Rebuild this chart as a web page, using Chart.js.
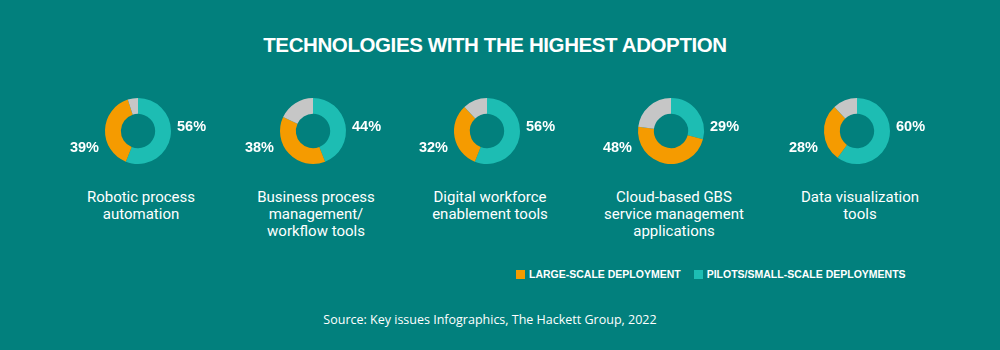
<!DOCTYPE html>
<html>
<head>
<meta charset="utf-8">
<script src="https://cdn.jsdelivr.net/npm/chart.js@4.4.1/dist/chart.umd.min.js"></script>
<style>
  html, body { margin: 0; padding: 0; }
  body { width: 1000px; height: 350px; background: #02807d; position: relative; overflow: hidden; font-family: Roboto, "Liberation Sans", sans-serif; color: #fff; }
  #title { position: absolute; left: 0; width: 990px; top: 33px; text-align: center; font-family: "Liberation Sans", Arial, sans-serif; font-weight: bold; font-size: 20.5px; letter-spacing: -0.4px; }
  .donut { position: absolute; width: 170px; height: 80px; }
  .cat { position: absolute; width: 200px; text-align: center; font-size: 15px; line-height: 17px; top: 189px; }
  #legend { position: absolute; top: 268px; left: 516px; font-family: "Liberation Sans", Arial, sans-serif; font-weight: bold; font-size: 10.5px; white-space: nowrap; }
  #legend span.sw { display: inline-block; width: 9px; height: 9px; margin-right: 4px; vertical-align: -0.5px; }
  #legend span.it { margin-right: 13px; }
  #source { position: absolute; top: 311px; left: 0; width: 980px; text-align: center; font-family: "Open Sans", sans-serif; font-size: 12.5px; }
</style>
</head>
<body>
<div id="title">TECHNOLOGIES WITH THE HIGHEST ADOPTION</div>
<div id="charts"></div>
<div id="legend"></div>
<div id="source">Source: Key issues Infographics, The Hackett Group, 2022</div>

<script>
// data (percent of respondents)
var categories = [
    ["Robotic process", "automation"],
    ["Business process", "management/", "workflow tools"],
    ["Digital workforce", "enablement tools"],
    ["Cloud-based GBS", "service management", "applications"],
    ["Data visualization", "tools"]
];
var pilots = [56, 44, 56, 29, 60];
var largeScale = [39, 38, 32, 48, 28];
var seriesNames = ["LARGE-SCALE DEPLOYMENT", "PILOTS/SMALL-SCALE DEPLOYMENTS"];

var centersX = [138, 313, 487, 671, 857];
var centerY = 131;

var colPilot = '#1dbdb3';
var colLarge = '#f59b00';
var colOther = '#c6c6c6';

// draws the two percent labels beside the ring
var pctLabels = {
    id: 'pctLabels',
    afterDraw: function (chart) {
        var ctx = chart.ctx;
        var arc = chart.getDatasetMeta(0).data[0];
        var d = chart.data.datasets[0].data;
        ctx.save();
        ctx.fillStyle = '#fff';
        ctx.font = 'bold 14.5px "Liberation Sans", Arial, sans-serif';
        ctx.textBaseline = 'middle';
        ctx.textAlign = 'left';
        ctx.fillText(d[0] + '%', arc.x + arc.outerRadius + 6, arc.y - 4);
        ctx.textAlign = 'right';
        ctx.fillText(d[1] + '%', arc.x - arc.outerRadius - 6, arc.y + 17);
        ctx.restore();
    }
};

var holder = document.getElementById('charts');

for (var i = 0; i < categories.length; i++) {
    var box = document.createElement('div');
    box.className = 'donut';
    box.style.left = (centersX[i] - 85) + 'px';
    box.style.top = (centerY - 40) + 'px';
    box.innerHTML = '<canvas id="donut-' + i + '"></canvas>';
    holder.appendChild(box);

    var cat = document.createElement('div');
    cat.className = 'cat';
    cat.style.left = (centersX[i] - 100 + 3) + 'px';
    cat.innerHTML = categories[i].join('<br>');
    holder.appendChild(cat);

    var other = 100 - pilots[i] - largeScale[i];

    new Chart(document.getElementById('donut-' + i).getContext("2d"), {
        type: 'doughnut',
        data: {
            labels: [seriesNames[1], seriesNames[0], 'Other'],
            datasets: [{
                data: [pilots[i], largeScale[i], other],
                backgroundColor: [colPilot, colLarge, colOther],
                borderWidth: 0
            }]
        },
        options: {
            responsive: true,
            maintainAspectRatio: false,
            animation: false,
            cutout: '52%',
            layout: { padding: { left: 52, right: 52, top: 7, bottom: 7 } },
            plugins: { legend: { display: false }, tooltip: { enabled: false } }
        },
        plugins: [pctLabels]
    });
}

var legendBox = document.getElementById('legend');
legendBox.innerHTML =
    '<span class="sw" style="background:' + colLarge + '"></span><span class="it">' + seriesNames[0] + '</span>' +
    '<span class="sw" style="background:' + colPilot + '"></span><span>' + seriesNames[1] + '</span>';
</script>
</body>
</html>
